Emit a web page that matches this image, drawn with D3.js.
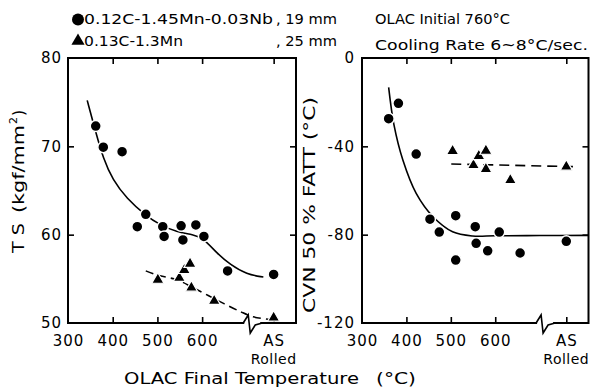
<!DOCTYPE html>
<html><head><meta charset="utf-8">
<script src="https://cdn.jsdelivr.net/npm/d3@7"></script>
<style>
body{margin:0;background:#fff;}
text{font-family:"DejaVu Sans",sans-serif;fill:#000;}
</style></head>
<body><svg id="c" width="590" height="390"></svg>
<script>
// ---- data ----
const AS = 760;               // position used for "AS Rolled"
const xTickVals = [300,400,500,600];
const tsTickVals = [50,60,70,80];
const fattTickVals = [-120,-80,-40,0];

// Tensile strength, Nb steel (circles)
const tsNbX = [362,379,421,474,455,512,515,553,557,586,604,657,AS];
const tsNbY = [72.3,69.9,69.4,62.3,60.9,60.9,59.8,61.0,59.4,61.1,59.8,55.9,55.5];
// Tensile strength, C-Mn steel (triangles)
const tsMnX = [501,549,560,573,576,627,AS];
const tsMnY = [54.9,55.1,56.0,56.7,54.0,52.5,50.6];
// Fitted curves, TS
const tsNbFitX = [343,362,379,400,431,475,506,543,580,603,633,663,700,737];
const tsNbFitY = [75.2,71.6,68.6,66.2,64.1,62.1,61.1,60.3,60.0,59.6,57.9,56.6,55.5,55.2];
const tsMnFitX = [474,501,543,580,633,685,714,752];
const tsMnFitY = [55.9,55.4,54.9,54.0,52.6,51.3,50.7,50.4];

// CVN 50% FATT, Nb steel (circles)
const fNbX = [360,382,422,453,474,511,511,555,557,583,609,656,AS];
const fNbY = [-27.5,-20.5,-43.5,-73,-78.8,-71.4,-91.5,-76.4,-83.9,-87.3,-78.8,-88.3,-83];
// CVN 50% FATT, C-Mn steel (triangles)
const fMnX = [504,551,563,579,579,634,AS];
const fMnY = [-42.1,-48.5,-44.4,-42,-50.3,-55.3,-49.2];
// Fitted curves, FATT
const fNbFitX = [360,372,392,422,460,504,549,600,700,810];
const fNbFitY = [-13.3,-30.3,-46.2,-61.3,-71.9,-78.7,-80.6,-80.5,-80.4,-80.3];
const fMnFitX = [501,775];
const fMnFitY = [-48.0,-49.2];

const breakAt = 692;

// ---- drawing ----
const svg = d3.select("#c");
const FS = 15;

function panel(opt){
  const x = d3.scaleLinear().domain([300,810]).range(opt.xr);
  const y = d3.scaleLinear().domain(opt.yd).range([323,58]);
  const g = svg.append("g");
  const [x0,x1] = opt.xr;
  g.append("rect").attr("x",x0).attr("y",58).attr("width",x1-x0).attr("height",265)
    .attr("fill","none").attr("stroke","#000").attr("stroke-width",2);
  const bx = g.append("g").attr("transform","translate(0,323)")
    .call(d3.axisBottom(x).tickValues(xTickVals.concat([AS])).tickSizeInner(-6).tickSizeOuter(0).tickPadding(12)
      .tickFormat(d=> d===AS ? "AS" : d));
  bx.select(".domain").remove();
  bx.selectAll("line").attr("stroke","#000").attr("stroke-width",1.6)
    .filter(d=>d===300).remove();
  bx.selectAll("text").attr("font-size",FS).attr("letter-spacing","1px").attr("fill","#000").attr("dy","0.71em");
  g.append("text").attr("x",x(AS)).attr("y",364).attr("text-anchor","middle")
    .attr("font-size",14).attr("letter-spacing","0.5px").text("Rolled");
  const tx = g.append("g").attr("transform","translate(0,58)")
    .call(d3.axisTop(x).tickValues([400,500,600,AS]).tickSizeInner(-6).tickSizeOuter(0).tickFormat(""));
  tx.select(".domain").remove();
  tx.selectAll("line").attr("stroke","#000").attr("stroke-width",1.6);
  const ly = g.append("g").attr("transform",`translate(${x0},0)`)
    .call(d3.axisLeft(y).tickValues(opt.yt).tickSizeInner(-6).tickSizeOuter(0).tickPadding(opt.lpad));
  ly.select(".domain").remove();
  ly.selectAll("line").attr("stroke","#000").attr("stroke-width",1.6);
  ly.selectAll("line").filter((d,i)=> i===0 || i===opt.yt.length-1).remove();
  ly.selectAll("text").attr("font-size",FS).attr("letter-spacing","1px").attr("fill","#000")
    .text(d=> d<0 ? "-"+Math.abs(d) : d);
  const ry = g.append("g").attr("transform",`translate(${x1},0)`)
    .call(d3.axisRight(y).tickValues(opt.yt.slice(1,-1)).tickSizeInner(-6).tickSizeOuter(0).tickFormat(""));
  ry.select(".domain").remove();
  ry.selectAll("line").attr("stroke","#000").attr("stroke-width",1.6);
  const bx0 = x(breakAt);
  g.append("rect").attr("x",bx0+1).attr("y",320).attr("width",16).attr("height",6).attr("fill","#fff");
  g.append("path").attr("d",`M${bx0},323 L${bx0+5},315 L${bx0+7},333 L${bx0+12},325 L${bx0+19},323`)
    .attr("fill","none").attr("stroke","#000").attr("stroke-width",1.6);

  const lineA = d3.line().x(d=>x(d[0])).y(d=>y(d[1])).curve(opt.curveA);
  const lineB = d3.line().x(d=>x(d[0])).y(d=>y(d[1])).curve(d3.curveCatmullRom);
  g.append("path").attr("d",lineA(d3.zip(opt.fitAX,opt.fitAY)))
    .attr("fill","none").attr("stroke","#000").attr("stroke-width",1.6);
  g.append("path").attr("d",lineB(d3.zip(opt.fitBX,opt.fitBY)))
    .attr("fill","none").attr("stroke","#000").attr("stroke-width",1.6).attr("stroke-dasharray",opt.dash);

  g.selectAll(".cir").data(d3.zip(opt.cx,opt.cy)).join("circle")
    .attr("cx",d=>x(d[0])).attr("cy",d=>y(d[1])).attr("r",5.5)
    .attr("fill","#000").attr("stroke","#fff").attr("stroke-width",1.5);
  const tri = d3.symbol().type(d3.symbolTriangle).size(64);
  g.selectAll(".tri").data(d3.zip(opt.tx,opt.ty)).join("path")
    .attr("transform",d=>`translate(${x(d[0])},${y(d[1])})`).attr("d",tri)
    .attr("fill","#000").attr("stroke","#fff").attr("stroke-width",1.2);
}

panel({xr:[68,296], yd:[50,80], yt:tsTickVals, lpad:6, curveA:d3.curveBasis,
  cx:tsNbX, cy:tsNbY, tx:tsMnX, ty:tsMnY,
  fitAX:tsNbFitX, fitAY:tsNbFitY, fitBX:tsMnFitX, fitBY:tsMnFitY, dash:"8,5"});
panel({xr:[362,588.5], yd:[-120,0], yt:fattTickVals, lpad:7, curveA:d3.curveCatmullRom,
  cx:fNbX, cy:fNbY, tx:fMnX, ty:fMnY,
  fitAX:fNbFitX, fitAY:fNbFitY, fitBX:fMnFitX, fitBY:fMnFitY, dash:"10,6"});

// ---- legend / annotations ----
svg.append("circle").attr("cx",78).attr("cy",19.5).attr("r",6).attr("fill","#000");
svg.append("path").attr("transform","translate(78,41)").attr("d",d3.symbol().type(d3.symbolTriangle).size(75)).attr("fill","#000");
function txt(s,x,y,len,fs){
  return svg.append("text").attr("x",x).attr("y",y).attr("font-size",fs||14)
    .attr("textLength",len).attr("lengthAdjust","spacingAndGlyphs").text(s);
}
txt("0.12C-1.45Mn-0.03Nb",84,24,189);
txt(", 19 mm",276,24,61);
txt("0.13C-1.3Mn",84,46,99);
txt(", 25 mm",276,46,61);
txt("OLAC  Initial  760°C",375,24,135);
txt("Cooling  Rate  6~8°C/sec.",375,50,213);
txt("OLAC  Final  Temperature",124,384,235,15);
txt("(°C)",376,384,40,15);

const yl = svg.append("g").attr("transform","translate(24,253) rotate(-90)");
yl.append("text").attr("x",0).attr("y",0).attr("font-size",16).attr("textLength",30).attr("lengthAdjust","spacingAndGlyphs").text("T S");
yl.append("text").attr("x",40).attr("y",0).attr("font-size",16).attr("textLength",88).attr("lengthAdjust","spacingAndGlyphs").text("(kgf/mm");
yl.append("text").attr("x",129).attr("y",-7).attr("font-size",11).text("2");
yl.append("text").attr("x",137).attr("y",0).attr("font-size",16).text(")");
const yr = svg.append("g").attr("transform","translate(315,313) rotate(-90)");
yr.append("text").attr("x",0).attr("y",0).attr("font-size",16).attr("textLength",216).attr("lengthAdjust","spacingAndGlyphs").text("CVN  50 %  FATT  (°C)");
</script></body></html>
